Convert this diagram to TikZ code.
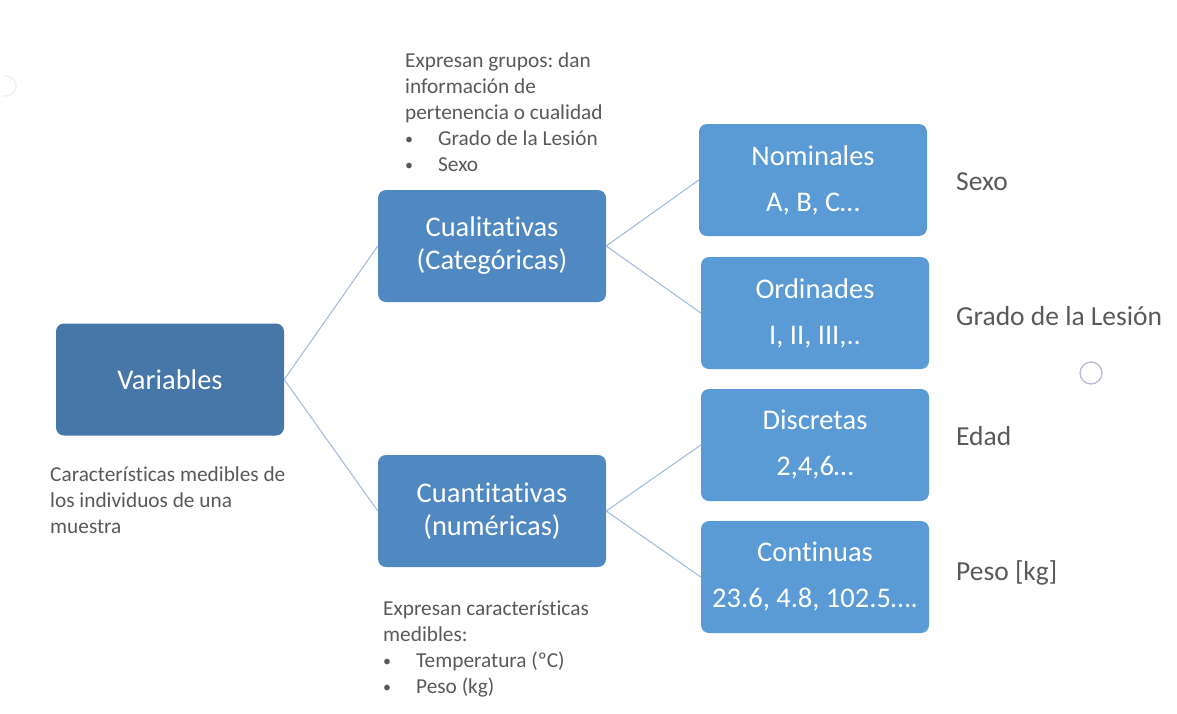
\documentclass[tikz,border=0pt]{standalone}
\usepackage{fontspec}
\setmainfont{Carlito}[Ligatures=NoCommon]
\usetikzlibrary{positioning}
\frenchspacing

\definecolor{rootblue}{HTML}{4677A8}
\definecolor{midblue}{HTML}{5088C2}
\definecolor{leafblue}{HTML}{5B9BD5}
\definecolor{linkblue}{HTML}{A3BEDF}
\definecolor{notegray}{HTML}{595959}
\definecolor{ringgray}{HTML}{B9B9D6}

\tikzset{%
          every box/.style={
            rectangle,
            rounded corners=8pt,
            minimum width=228pt,
            minimum height=112pt,
            inner sep=2pt,
            align=center,
            text=white,
            font=\fontsize{28.5}{33}\selectfont
          },
          root box/.style={every box, fill=rootblue},
          mid box/.style={every box, fill=midblue},
          leaf box/.style={every box, fill=leafblue},
          note/.style={
            anchor=north west,
            inner sep=0pt,
            align=left,
            text=notegray,
            font=\fontsize{21.3}{26}\selectfont
          },
          example/.style={
            anchor=west,
            inner sep=0pt,
            text=notegray,
            font=\fontsize{27.5}{31}\selectfont
          },
          link/.style={draw=linkblue, line width=1.1pt},
        }
\newcommand{\itembullet}{\makebox[33pt][l]{\raisebox{1pt}{\scalebox{0.75}{\textbullet}}}}

\begin{document}
\begin{tikzpicture}[x=1pt, y=-1pt]
        \useasboundingbox (0,0) rectangle (1177,713);

        \node [root box] (variables) at (170,379.5) {Variables};

        \node [mid box] (cualitativas) at (492,246) {Cualitativas\\(Categóricas)};
        \node [mid box] (cuantitativas) at (492,511) {Cuantitativas\\(numéricas)};

        \node [leaf box] (nominales) at (813,180) {Nominales\\[13pt]A, B, C…};
        \node [leaf box] (ordinades) at (815,313) {Ordinades\\[13pt]I, II, III,..};
        \node [leaf box] (discretas) at (815,445) {Discretas\\[13pt]2,4,6…};
        \node [leaf box] (continuas) at (815,577) {Continuas\\[13pt]23.6, 4.8, 102.5….};

        \path [link] (variables.east) -- (cualitativas.west);
        \path [link] (variables.east) -- (cuantitativas.west);
        \path [link] (cualitativas.east) -- (nominales.west);
        \path [link] (cualitativas.east) -- (ordinades.west);
        \path [link] (cuantitativas.east) -- (discretas.west);
        \path [link] (cuantitativas.east) -- (continuas.west);

        \node [note] (note-cual) at (405,53) {Expresan grupos: dan\\información de\\pertenencia o cualidad\\\itembullet Grado de la Lesión\\\itembullet Sexo};
        \node [note] (note-var) at (50,466) {Características medibles de\\los individuos de una\\muestra};
        \node [note] (note-cuant) at (383,601) {Expresan características\\medibles:\\\itembullet Temperatura (ºC)\\\itembullet Peso (kg)};

        \node [example] (ex-sexo) at (956,182) {Sexo};
        \node [example] (ex-grado) at (956,316) {Grado de la Lesión};
        \node [example] (ex-edad) at (956,436) {Edad};
        \node [example] (ex-peso) at (956,573) {Peso [kg]};

        \draw [ringgray, line width=1.3pt] (1091,373) circle (11);
        \draw [gray!12, line width=1.5pt] (6,86) ++(-100:10) arc [start angle=-100, end angle=110, radius=10];
\end{tikzpicture}
\end{document}
